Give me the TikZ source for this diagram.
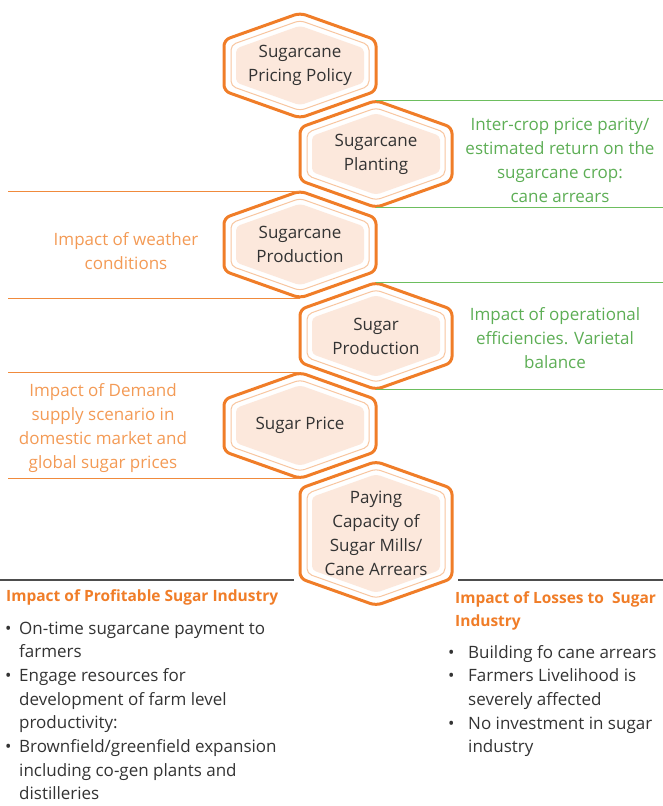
\documentclass[tikz,border=0pt]{standalone}
\usepackage{fontspec}
\setmainfont{Open Sans}
\usetikzlibrary{positioning}

\definecolor{hexorange}{HTML}{F07D28}
\definecolor{hexline}{HTML}{F8C6A0}
\definecolor{hexfill}{HTML}{FCE8DC}
\definecolor{notegreen}{HTML}{5DAE55}
\definecolor{rulegreen}{HTML}{6DBE5E}
\definecolor{noteorange}{HTML}{F39A55}
\definecolor{ruleorange}{HTML}{F08A3C}
\definecolor{rulegray}{HTML}{4D4D4D}
\definecolor{bodytext}{HTML}{333333}

\tikzset{
	hexout/.style={draw=hexorange, line width=3pt, fill=white, rounded corners=6pt},
	hexmid/.style={draw=hexline, line width=1pt, rounded corners=5pt},
	hexin/.style={fill=hexfill, rounded corners=4pt},
	hextext/.style={align=center, text=bodytext, font=\fontsize{17}{24}\selectfont},
	greennote/.style={align=center, text=notegreen, font=\fontsize{17}{24}\selectfont},
	orangenote/.style={align=center, text=noteorange, font=\fontsize{17}{24}\selectfont},
	headnote/.style={inner sep=0pt, text=hexorange, font=\fontsize{15.5}{23.5}\selectfont\bfseries},
	listnote/.style={inner sep=0pt, text=bodytext, font=\fontsize{17}{23.7}\selectfont},
	greenrule/.style={draw=rulegreen, line width=1pt},
	orangerule/.style={draw=ruleorange, line width=1pt},
	grayrule/.style={draw=rulegray, line width=1.3pt}
}

% hexagon outline: #1 half side, #2 inset
\newcommand\hexpath[2]{(0,{-#1-27+1.061*#2}) -- ({76-#2},{-#1+0.706*#2}) -- ({76-#2},{#1-0.706*#2}) -- (0,{#1+27-1.061*#2}) -- ({-76+#2},{#1-0.706*#2}) -- ({-76+#2},{-#1+0.706*#2}) -- cycle}

% #1 name, #2 x, #3 y, #4 half side, #5 text
\newcommand\hexcell[5]{%
	\begin{scope}[shift={(#2,#3)}]
		\draw[hexout] \hexpath{#4}{0};
		\draw[hexmid] \hexpath{#4}{7};
		\fill[hexin] \hexpath{#4}{12};
		\coordinate (#1-top) at (0,{-#4-27});
		\coordinate (#1-bot) at (0,{#4+27});
	\end{scope}
	\node[hextext] (#1) at (#2,#3) {#5};}

% bullet, #1 indent
\newcommand\dotitem[1]{\makebox[#1][l]{\textbullet}}

\begin{document}
\begin{tikzpicture}[x=1pt,y=-1pt]
	\useasboundingbox (0,0) rectangle (663,806);
	\coordinate (L) at (8,0);
	\coordinate (R) at (663,0);

	\hexcell{pricing}{300}{65.5}{25.5}{Sugarcane\\Pricing Policy}
	\hexcell{planting}{376}{154}{26.5}{Sugarcane\\Planting}
	\hexcell{caneprod}{300}{244.5}{26.5}{Sugarcane\\Production}
	\hexcell{sugarprod}{376}{336}{26.5}{Sugar\\Production}
	\hexcell{price}{300}{425.5}{26}{Sugar Price}
	\hexcell{paying}{376}{533.5}{45}{Paying\\Capacity of\\Sugar Mills/\\Cane Arrears}

	\draw[greenrule] (planting-top) -- (planting-top -| R);
	\draw[greenrule] (planting-bot) -- (planting-bot -| R);
	\draw[orangerule] (caneprod-top) -- (caneprod-top -| L);
	\draw[orangerule] (caneprod-bot) -- (caneprod-bot -| L);
	\draw[greenrule] (sugarprod-top) -- (sugarprod-top -| R);
	\draw[greenrule] (sugarprod-bot) -- (sugarprod-bot -| R);
	\draw[orangerule] (price-top) -- (price-top -| L);
	\draw[orangerule] (price-bot) -- (price-bot -| L);

	\node[greennote] (parity) at (560,160) {Inter-crop price parity/\\estimated return on the\\sugarcane crop:\\cane arrears};
	\node[orangenote] (weather) at (126,251) {Impact of weather\\conditions};
	\node[greennote] (operation) at (555,338) {Impact of operational\\efficiencies. Varietal\\balance};
	\node[orangenote] (demand) at (103,428) {Impact of Demand\\supply scenario in\\domestic market and\\global sugar prices};

	% split rules under the last cell
	\coordinate (gainL) at (0,580);
	\coordinate (gainR) at (294,580);
	\coordinate (lossL) at (458,580);
	\coordinate (lossR) at (663,580);
	\draw[grayrule] (gainL) -- (gainR);
	\draw[grayrule] (lossL) -- (lossR);

	\node[headnote, anchor=base west] (gainhead) at (6,601) {Impact of Profitable Sugar Industry};
	\node[headnote, anchor=base west] (losshead) at (455,603) {\begin{tabular}[t]{@{}l@{}}Impact of Losses to\ \ Sugar\\Industry\end{tabular}};

	\node[listnote, anchor=base west] (gainlist) at (5,634) {\begin{tabular}[t]{@{}l@{}l@{}}
		\dotitem{14pt} & On-time sugarcane payment to\\
		& farmers\\
		\dotitem{14pt} & Engage resources for\\
		& development of farm level\\
		& productivity:\\
		\dotitem{14pt} & Brownfield/greenfield expansion\\
		& including co-gen plants and\\
		& distilleries
	\end{tabular}};
	\node[listnote, anchor=base west] (losslist) at (448,658) {\begin{tabular}[t]{@{}l@{}l@{}}
		\dotitem{20pt} & Building fo cane arrears\\
		\dotitem{20pt} & Farmers Livelihood is\\
		& severely affected\\
		\dotitem{20pt} & No investment in sugar\\
		& industry
	\end{tabular}};
\end{tikzpicture}
\end{document}
